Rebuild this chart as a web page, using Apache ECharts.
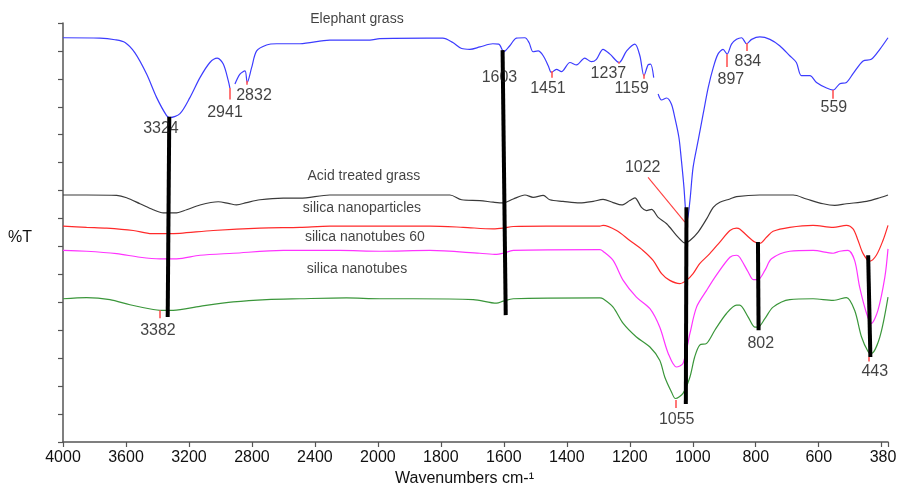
<!DOCTYPE html>
<html>
<head>
<meta charset="utf-8">
<script src="https://cdn.jsdelivr.net/npm/echarts@6/dist/echarts.min.js"></script>
<style>
  html, body { margin: 0; padding: 0; background: #ffffff; }
  #chart { width: 899px; height: 484px; }
</style>
</head>
<body>
<div id="chart"></div>
<script>
// FTIR spectra: [wavenumber cm-1, %T (offset for stacking)]
const elephantGrass = [
  [4000,101.3],[3765,101.2],[3670,100.8],[3606,100.1],[3543,97.5],[3469,92.2],[3405,86.3],[3342,81.8],[3321,81.3],
  [3257,82.3],[3194,86.3],[3130,91.3],[3067,95.1],[3020,96.2],[2982,94.7],[2950,90.5],[2940,88.7],[2925,'-'],
  [2908,89.7],[2876,92.2],[2844,93.0],[2830,90.1],[2802,93.8],[2770,98.0],[2707,99.5],[2643,99.8],[2495,99.8],
  [2305,100.7],[2051,100.7],[1994,101.1],[1845,101.2],[1794,101.2],[1762,100.1],[1734,98.6],[1708,98.4],[1676,99.0],
  [1635,99.8],[1616,99.7],[1600,97.8],[1581,99.3],[1560,101.2],[1533,101.3],[1520,100.1],[1507,97.8],[1491,98.0],
  [1475,96.8],[1459,94.3],[1449,92.6],[1433,93.4],[1417,92.8],[1390,95.1],[1369,94.5],[1343,96.2],[1322,95.3],
  [1306,95.9],[1285,98.4],[1263,97.2],[1234,95.1],[1210,98.0],[1184,99.7],[1168,96.8],[1155,91.8],[1142,94.5],
  [1134,94.7],[1124,91.3],[1117,'-'],[1110,87.2],[1099,85.7],[1083,86.2],[1068,84.7],[1057,81.3],[1044,76.3],
  [1036,70.5],[1028,63.8],[1022,57.2],[1018,55.5],[1009,60.5],[999,68.8],[983,75.5],[967,82.2],[951,88.8],
  [935,93.8],[920,97.2],[904,98.4],[891,97.2],[877,99.7],[861,100.9],[845,101.3],[829,99.8],[813,100.9],
  [787,101.5],[755,100.9],[724,99.3],[692,96.8],[671,95.1],[655,91.8],[628,91.8],[607,90.1],[575,88.7],
  [554,88.2],[533,89.8],[512,90.1],[491,92.3],[459,95.5],[433,95.9],[406,98.4],[380,101.3]
];
const acidTreatedGrass = [
  [4000,61.9],[3850,61.9],[3659,61.8],[3596,61.2],[3511,59.7],[3427,58.2],[3363,57.4],[3289,57.4],[3215,58.2],
  [3130,59.4],[3014,60.2],[2950,59.8],[2897,59.4],[2834,60.0],[2749,60.7],[2601,61.1],[2495,61.1],[2305,61.9],
  [1994,61.9],[1771,61.9],[1734,60.7],[1676,60.5],[1634,60.1],[1602,59.9],[1570,60.9],[1533,61.9],[1507,61.3],
  [1475,61.8],[1454,60.7],[1412,60.3],[1359,59.9],[1316,60.3],[1285,60.8],[1253,60.0],[1226,59.4],[1200,60.5],
  [1184,61.2],[1163,58.8],[1147,58.0],[1131,58.3],[1110,56.3],[1083,54.7],[1052,51.8],[1031,50.1],[1025,49.9],
  [1009,50.5],[983,52.6],[956,55.9],[935,58.8],[914,60.1],[882,60.9],[861,61.5],[787,61.9],[681,61.9],
  [639,60.9],[586,59.7],[549,59.3],[512,59.7],[448,60.3],[406,61.2],[380,61.9]
];
const silicaNanoparticles = [
  [4000,54.1],[3850,53.8],[3723,53.6],[3554,53.0],[3437,52.2],[3342,52.2],[3257,52.3],[3046,53.0],[2749,53.6],
  [2495,53.8],[2305,54.1],[1994,54.1],[1835,54.1],[1729,53.8],[1634,53.4],[1602,53.6],[1570,54.0],[1464,54.1],
  [1295,54.1],[1285,54.3],[1242,53.0],[1200,50.5],[1158,48.0],[1126,45.5],[1099,42.2],[1073,40.5],[1041,39.7],
  [1020,40.5],[999,42.2],[978,44.7],[946,47.2],[914,50.1],[882,53.0],[861,53.6],[851,53.4],[829,51.8],
  [803,50.1],[787,49.8],[766,51.3],[745,52.8],[692,53.8],[618,54.3],[554,53.8],[512,54.3],[491,53.4],
  [475,50.5],[459,47.2],[438,45.3],[417,46.8],[396,50.5],[380,54.3]
];
const silicaNanotubes60 = [
  [4000,48.0],[3850,47.8],[3659,47.2],[3511,46.3],[3384,45.9],[3278,45.9],[3130,46.8],[2919,47.3],[2601,48.0],
  [2241,48.0],[1994,47.8],[1835,48.0],[1676,47.3],[1623,47.0],[1602,47.3],[1570,48.0],[1295,48.2],[1285,47.8],
  [1253,45.5],[1221,40.5],[1179,36.3],[1136,33.4],[1105,28.8],[1078,22.2],[1052,18.8],[1031,19.7],[1009,27.2],
  [988,33.8],[956,38.0],[925,41.8],[882,46.3],[861,46.8],[851,46.3],[824,42.6],[808,40.7],[793,40.7],
  [771,43.0],[750,45.9],[692,47.8],[618,48.0],[554,47.3],[533,47.8],[507,48.0],[486,45.5],[470,38.8],
  [448,32.2],[433,29.7],[412,33.0],[390,41.3],[380,48.4]
];
const silicaNanotubes = [
  [4000,35.9],[3850,36.2],[3702,35.7],[3575,34.4],[3427,33.2],[3384,33.0],[3300,33.0],[3130,34.0],[2919,35.1],
  [2707,35.7],[2495,35.9],[2199,36.1],[1994,35.9],[1888,35.9],[1697,35.7],[1623,34.8],[1602,35.3],[1570,35.9],
  [1295,36.1],[1285,35.9],[1253,33.8],[1221,29.7],[1179,26.3],[1136,23.8],[1105,20.5],[1089,16.3],[1068,12.6],
  [1055,10.9],[1031,12.2],[1009,16.3],[994,21.3],[978,24.3],[956,24.7],[930,28.0],[893,32.2],[861,34.3],
  [851,34.3],[824,31.3],[803,28.8],[793,28.8],[771,30.9],[745,33.8],[692,35.7],[618,35.9],[554,35.5],
  [512,36.2],[486,33.0],[464,26.3],[443,22.6],[433,22.2],[406,26.3],[380,36.3]
];

const sampleNames = ['Elephant grass', 'Acid treated grass', 'silica nanoparticles', 'silica nanotubes 60', 'silica nanotubes'];
const sampleNameAnchors = [[2133,106],[2089,66.5],[2101,58.5],[2083,51.25],[2133,43.25]];

// assigned band positions (cm-1) and where their numbers sit
const peakLabels = ['3324','2941','2832','1603','1451','1237','1159','897','834','559','1022','3382','802','443','1055'];
const peakLabelAnchors = [[3378,78.5],[2971,82.5],[2787,86.75],[1614,91.25],[1460,88.5],[1268,92.25],[1194,88.5],
  [879,90.75],[825,95.25],[552,83.75],[1159,68.75],[3397,28],[784,24.75],[422,17.75],[1051,5.5]];
// short red peak markers: [wavenumber, top %T, bottom %T]
const peakTicks = [[2940,88.7,85.8],[2830,90.5,89.5],[1449,93,91.3],[1234,95.3,94.8],[1155,92.2,91],[891,97.2,94],
  [829,100,98],[554,88.2,86],[3384,33,31],[1055,10.5,8.5],[440,21.3,20.2]];
// heavy guide lines linking a band across spectra
const bandLines = [[[3325,81.5],[3335,31.3]],[[1604,98.2],[1594,31.8]],[[1020,58.8],[1022,9.5]],[[793,50.1],[791,28]],[[443,46.8],[436,21.3]]];
const pointer1022 = [[1142,66.3],[1025,55.1]];

// Axis runs 4000 -> 2000 at half the scale of 2000 -> 380 (usual FTIR scale change)
function toAxis(w) { return w >= 2000 ? 4000 - w : 2000 + 2 * (2000 - w); }
function fromAxis(u) { return u <= 2000 ? 4000 - u : 2000 - (u - 2000) / 2; }
const axisMax = toAxis(380);

function spectrum(arr) { return arr.map(p => [toAxis(p[0]), p[1]]); }

const FONT = 'Liberation Sans, Arial, sans-serif';
const chart = echarts.init(document.getElementById('chart'), null, { renderer: 'canvas' });

function lineSeries(name, data, color) {
  return {
    name, type: 'line', data: spectrum(data), showSymbol: false, smooth: 0.3,
    connectNulls: false, lineStyle: { color, width: 1.2 }, z: 3, silent: true
  };
}

chart.setOption({
  animation: false,
  backgroundColor: '#ffffff',
  grid: { left: 63, right: 11, top: 23, bottom: 42, outerBoundsMode: 'none', containLabel: false },
  xAxis: {
    type: 'value', min: 0, max: axisMax, interval: 400,
    name: 'Wavenumbers cm-\u00B9', nameLocation: 'middle', nameGap: 28,
    nameTextStyle: { fontFamily: FONT, fontSize: 16, color: '#111', padding: [0, 22, 0, 0] },
    axisLine: { lineStyle: { color: '#555', width: 1.5 } },
    axisTick: { show: true, inside: false, length: 5, lineStyle: { color: '#555', width: 1.2 } },
    axisLabel: {
      fontFamily: FONT, fontSize: 16, color: '#111', margin: 8,
      formatter: function (u) {
        const w = Math.round(fromAxis(u));
        if (w === 400) return '';
        if (w === 380) return '{e|380}';
        return String(w);
      },
      rich: { e: { fontFamily: FONT, fontSize: 16, color: '#111', padding: [0, 10, 0, 0] } }
    },
    splitLine: { show: false }
  },
  yAxis: {
    type: 'value', min: 0, max: 105, interval: 7,
    axisLine: { show: true, lineStyle: { color: '#555', width: 1.5 } },
    axisTick: { show: true, inside: false, length: 5, lineStyle: { color: '#555', width: 1.2 } },
    axisLabel: { show: false },
    splitLine: { show: false }
  },
  graphic: [{
    type: 'text', left: 8, top: 230,
    style: { text: '%T', fontFamily: FONT, fontSize: 16, fill: '#111' }
  }],
  series: [
    lineSeries('Elephant grass', elephantGrass, '#3c3cff'),
    lineSeries('Acid treated grass', acidTreatedGrass, '#3a3a3a'),
    lineSeries('silica nanoparticles', silicaNanoparticles, '#ff2a2a'),
    lineSeries('silica nanotubes 60', silicaNanotubes60, '#ff33ff'),
    lineSeries('silica nanotubes', silicaNanotubes, '#3a963a'),
    {
      type: 'lines', coordinateSystem: 'cartesian2d', silent: true, z: 5,
      lineStyle: { color: '#000', width: 4, opacity: 1 },
      data: bandLines.map(seg => ({ coords: seg.map(p => [toAxis(p[0]), p[1]]) }))
    },
    {
      type: 'lines', coordinateSystem: 'cartesian2d', silent: true, z: 4,
      lineStyle: { color: '#ff5555', width: 1.6, opacity: 1 },
      data: peakTicks.map(t => ({ coords: [[toAxis(t[0]), t[1]], [toAxis(t[0]), t[2]]] }))
        .concat([{ coords: pointer1022.map(p => [toAxis(p[0]), p[1]]), lineStyle: { width: 1.1, color: '#ff4040' } }])
    },
    {
      type: 'scatter', silent: true, clip: false, z: 6, symbolSize: 1,
      itemStyle: { color: 'rgba(0,0,0,0)' },
      label: { show: true, position: 'inside', formatter: p => p.name, fontFamily: FONT, fontSize: 16, color: '#111' },
      data: peakLabels.map((t, i) => ({ name: t, value: [toAxis(peakLabelAnchors[i][0]), peakLabelAnchors[i][1]] }))
    },
    {
      type: 'scatter', silent: true, clip: false, z: 6, symbolSize: 1,
      itemStyle: { color: 'rgba(0,0,0,0)' },
      label: { show: true, position: 'inside', formatter: p => p.name, fontFamily: FONT, fontSize: 14, color: '#111' },
      data: sampleNames.map((t, i) => ({ name: t, value: [toAxis(sampleNameAnchors[i][0]), sampleNameAnchors[i][1]] }))
    }
  ]
});
</script>
</body>
</html>
